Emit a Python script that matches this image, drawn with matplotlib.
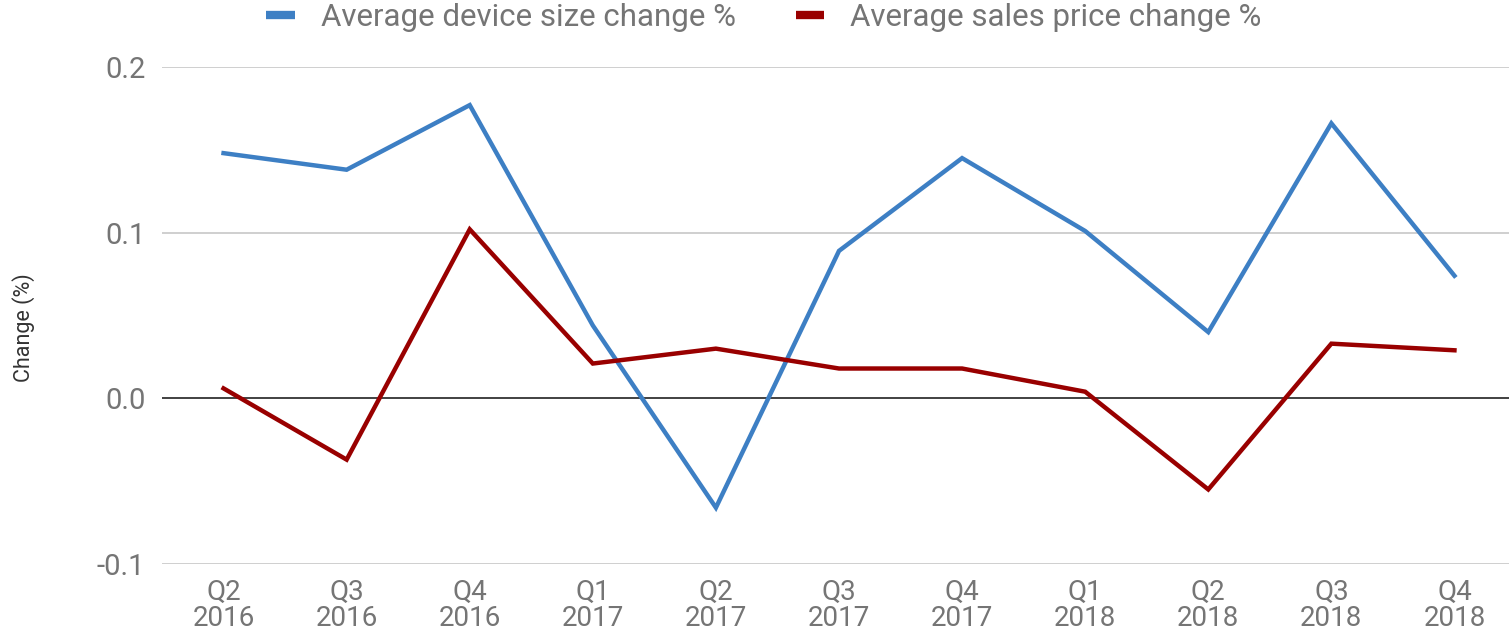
import matplotlib.pyplot as plt
import numpy as np

plt.rcParams['font.family'] = ['Roboto', 'DejaVu Sans']

quarters = ['Q2\n2016', 'Q3\n2016', 'Q4\n2016', 'Q1\n2017', 'Q2\n2017', 'Q3\n2017',
            'Q4\n2017', 'Q1\n2018', 'Q2\n2018', 'Q3\n2018', 'Q4\n2018']
device_size = [0.148, 0.138, 0.177, 0.044, -0.066, 0.089, 0.145, 0.101, 0.040, 0.166, 0.074]
sales_price = [0.006, -0.037, 0.102, 0.021, 0.030, 0.018, 0.018, 0.004, -0.055, 0.033, 0.029]

colorB = '#3d7fc4'
colorR = '#990000'
grey = '#757575'

fig = plt.figure(figsize=(15.09, 6.32), dpi=100)
ax = fig.add_axes([162 / 1509, 1 - 564 / 632, 1354 / 1509, (564 - 67) / 632])

x = np.arange(len(quarters))
ax.plot(x, device_size, color=colorB, lw=3.2, label='Average device size change %',
        solid_joinstyle='miter', zorder=3)
ax.plot(x, sales_price, color=colorR, lw=3.2, label='Average sales price change %',
        solid_joinstyle='miter', zorder=3)

ax.set_xlim(-0.5, len(quarters) - 0.5)
ax.set_ylim(-0.1, 0.2)
ax.set_yticks([-0.1, 0.0, 0.1, 0.2])
ax.set_yticklabels(['-0.1', '0.0', '0.1', '0.2'], fontsize=21)
ax.set_xticks(x)
ax.set_xticklabels(quarters, linespacing=0.95, fontsize=20)

for y in [-0.1, 0.1, 0.2]:
    ax.axhline(y, color='#cccccc', lw=1.3, zorder=1)
ax.axhline(0, color='#333333', lw=1.3, zorder=2)

for s in ax.spines.values():
    s.set_visible(False)
ax.tick_params(length=0, labelcolor=grey)
ax.tick_params(axis='y', pad=12)
ax.tick_params(axis='x', pad=11)

ax.set_ylabel('Change (%)', fontsize=15.5, color='#333333')
ax.yaxis.set_label_coords(-0.094, 0.475)

leg = fig.legend(loc='center', bbox_to_anchor=(764 / 1509, 1 - 17 / 632), ncol=2,
                 frameon=False, fontsize=22.5, handlelength=0.9, handletextpad=0.85,
                 columnspacing=1.9)
for h in leg.get_lines():
    h.set_linewidth(6)
    h.set_solid_capstyle('butt')
for t in leg.get_texts():
    t.set_color(grey)

fig.savefig('out.png', dpi=100)
